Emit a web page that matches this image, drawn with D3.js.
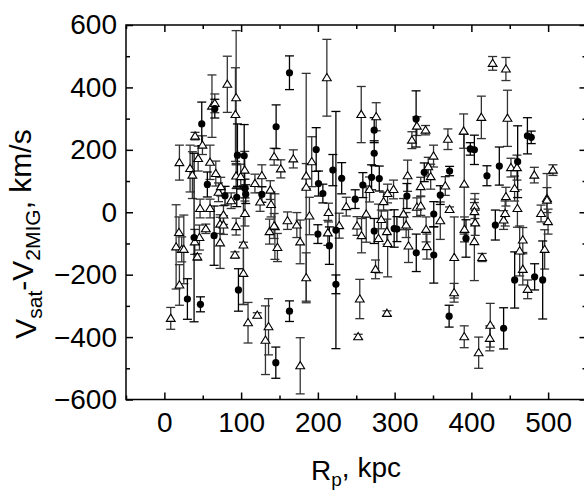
<!DOCTYPE html>
<html lang="en">
<head>
<meta charset="UTF-8">
<title>Vsat - V2MIG vs Rp</title>
<style>
    body { margin: 0; background: #fff; }
    svg text { font-family: "Liberation Sans", Arial, sans-serif; fill: #000; }
</style>
</head>
<body>
<div id="chart"></div>
<script src="https://cdn.jsdelivr.net/npm/d3@7"></script>
<script>
// ---- data ----
// filled circles
var circX = [48.7, 56, 65.7, 79, 95.2, 104, 105, 106, 94.3, 127, 145.6,
    163, 197.8, 200.8, 206.5, 219.5, 231, 248.6, 258.6, 273.4, 273.4, 270, 280, 316, 328, 338.6,
    398.6, 403.9, 420.3, 436.4, 473, 478, 460.3, 371.6, 359.5,
    30, 38.7, 47, 64.8, 96.5, 145.2,
    163, 200, 215, 223.5, 223.5, 273.4, 299.4, 303, 328.2,
    351, 351, 371, 393, 431.2, 442, 456.4, 482.4, 492.9];
var circY = [283, 89, 332, 53, 183, 181, 76, 58, 48, 57, 274,
    447, 201, 92, 60, 135, 109, 42, 87, 263, 189, 112, 108, 52, 299, 128,
    203, 200, 117, 148, 245, 240, 162, 132, 55,
    -278, -81, -295, -75, -249, -482,
    -317, -70, -107, -57, -231, -60, -52, -54, -130,
    -6, -137, -333, -84, -41, -372, -217, -207, -217];
var circErr = [70, 40, 30, 30, 100, 100, 30, 30, 30, 25, 70,
    54, 70, 40, 30, 50, 50, 30, 40, 40, 40, 40, 40, 40, 90, 30,
    20, 47, 32, 61, 58, 20, 115, 15, 30,
    65, 270, 24, 95, 68, 50,
    33, 30, 60, 380, 30, 40, 60, 40, 60,
    40, 90, 35, 60, 48, 66, 90, 42, 125];

// open triangles
var triX = [19.6, 33.5, 36.5, 40, 44, 49.6, 59.5, 62, 65.7, 67, 70.5, 73.5, 82, 87, 93.5, 92.6,
    93.5, 99.5, 104.7, 118, 127, 138, 139, 143, 46.5, 59.5,
    211.7, 151.7, 168, 184.8, 184.8, 192, 237, 256.5, 267.3, 276, 285.6, 290.8, 298.6, 316.9,
    329, 322.5, 340.3, 343.8, 334,
    427.7, 445, 413, 447, 369.4, 389.9, 451.6, 459.4, 482, 506.3, 498.5, 456.3, 445,
    350.7, 347, 366, 390.7, 404.6,
    8.3, 15.3, 19, 19.6, 22.6, 25.3, 39.6, 43, 45.7, 54, 72.6, 72.6, 77, 77, 93.5, 92,
    103, 103, 105, 109, 121, 131.7, 135.7, 137, 144, 147.3, 124.7,
    143, 160.4, 172.6, 176.9, 177, 184.8, 189, 213.9, 213, 227.8, 251, 256.9, 254.6, 252.5,
    263, 279, 275.1, 290, 289.9, 290.9, 282.6, 311.6, 315, 318.1, 329, 334, 341, 342,
    359.5, 371.6, 377.7, 377.5, 391, 404, 405, 403.9, 414, 390.7, 409.5, 424, 424.6,
    442, 444, 460, 462.9, 467, 467, 473.3, 495.5, 490.8, 499.9, 498.5];
var triY = [159, 140, 119, 244, 172, 215, 160, 340, 349, 124, 64, 82, 410, 37, 367, 313,
    116, 114, 135, 92, 117, 71, 25, 178, 12, 12,
    431, 139, 171, 116, 80, 162, 18, 313, 73, 306, 34, 60, 73, 117,
    276, 231, 263, 146, 82,
    477, 459, 304, 301, 234, 260, 143, 143, 119, 135, 44, 76, 50,
    180, 114, 84, 90, 20,
    -340, -111, -65, -233, -119, -119, -95, -143, -81, -53, -38, -98, -9, -41, -46, -137,
    -105, -196, -4, -354, -330, -410, -367, -62, -46, -113, 33,
    -44, -27, -41, -95, -492, -210, -12, -1, -66, -43, -44, -75, -278, -399,
    -6, -84, -183, -324, -62, -100, -23, -6, -41, -108, 16, 20, -55, -110,
    -27, 9, -145, -258, -55, 2, -34, -94, -145, -399, -450, -404, -362,
    -25, -4, 12, -124, -89, -183, -247, -119, -4, -30, 39];
var triErr = [56, 75, 75, 12, 40, 30, 55, 100, 30, 40, 30, 30, 90, 25, 215, 150,
    40, 40, 60, 30, 35, 30, 40, 27, 30, 30,
    123, 29, 29, 40, 365, 80, 30, 90, 40, 45, 30, 30, 30, 50,
    30, 27, 15, 30, 30,
    22, 37, 68, 90, 33, 55, 30, 40, 25, 17, 80, 40, 30,
    35, 40, 30, 160, 40,
    35, 135, 50, 65, 40, 110, 40, 10, 40, 15, 30, 82, 30, 30, 27, 10,
    190, 100, 40, 65, 8, 110, 90, 40, 105, 45, 30,
    40, 28, 40, 70, 90, 80, 60, 30, 40, 40, 30, 55, 63, 8,
    90, 110, 30, 8, 40, 107, 30, 50, 40, 53, 30, 30, 40, 40,
    60, 8, 130, 30, 40, 40, 40, 125, 13, 35, 50, 40, 70,
    30, 40, 60, 80, 40, 50, 30, 63, 27, 40, 40];

var xTicks = [0, 100, 200, 300, 400, 500];
var xMinor = [-50, 50, 150, 250, 350, 450, 550];
var yTicks = [-600, -400, -200, 0, 200, 400, 600];
var yMinor = [-500, -300, -100, 100, 300, 500];

// ---- layout ----
var W = 584, H = 493;
var plotL = 126, plotR = 586.5, plotT = 25, plotB = 399.5;

var svg = d3.select("#chart").append("svg")
    .attr("width", W)
    .attr("height", H);

var x = d3.scaleLinear().domain([-50, 550]).range([plotL, plotR]);
var y = d3.scaleLinear().domain([-600, 600]).range([plotB, plotT]);

var circles = circX.map(function (d, i) { return {x: d, y: circY[i], e: circErr[i]}; });
var triangles = triX.map(function (d, i) { return {x: d, y: triY[i], e: triErr[i]}; });

// axes, ticks pointing inwards
function styleAxis(g) {
    g.select(".domain").remove();
    g.selectAll("line").attr("stroke", "#000").attr("stroke-width", 1.5);
    g.selectAll("text").style("font-size", "28px");
}

svg.append("g").attr("transform", "translate(0," + plotB + ")")
    .call(d3.axisBottom(x).tickValues(xTicks).tickSize(-7).tickSizeOuter(0).tickPadding(13))
    .call(styleAxis);
svg.append("g").attr("transform", "translate(0," + plotB + ")")
    .call(d3.axisBottom(x).tickValues(xMinor).tickSize(-4).tickSizeOuter(0).tickFormat(""))
    .call(styleAxis);
svg.append("g").attr("transform", "translate(0," + plotT + ")")
    .call(d3.axisTop(x).tickValues(xTicks).tickSize(-7).tickSizeOuter(0).tickFormat(""))
    .call(styleAxis);
svg.append("g").attr("transform", "translate(0," + plotT + ")")
    .call(d3.axisTop(x).tickValues(xMinor).tickSize(-4).tickSizeOuter(0).tickFormat(""))
    .call(styleAxis);

svg.append("g").attr("transform", "translate(" + plotL + ",0)")
    .call(d3.axisLeft(y).tickValues(yTicks).tickSize(-7).tickSizeOuter(0).tickPadding(9))
    .call(styleAxis);
svg.append("g").attr("transform", "translate(" + plotL + ",0)")
    .call(d3.axisLeft(y).tickValues(yMinor).tickSize(-4).tickSizeOuter(0).tickFormat(""))
    .call(styleAxis);
svg.append("g").attr("transform", "translate(" + plotR + ",0)")
    .call(d3.axisRight(y).tickValues(yTicks).tickSize(-7).tickSizeOuter(0).tickFormat(""))
    .call(styleAxis);
svg.append("g").attr("transform", "translate(" + plotR + ",0)")
    .call(d3.axisRight(y).tickValues(yMinor).tickSize(-4).tickSizeOuter(0).tickFormat(""))
    .call(styleAxis);

// error bars
function errorBars(data, cls, colour) {
    var g = svg.append("g").attr("class", cls)
        .attr("stroke", colour).attr("stroke-width", 1.3).attr("fill", "none");
    var bars = g.selectAll("g").data(data).enter().append("g");
    bars.append("line")
        .attr("x1", function (d) { return x(d.x); })
        .attr("x2", function (d) { return x(d.x); })
        .attr("y1", function (d) { return y(d.y - d.e); })
        .attr("y2", function (d) { return y(d.y + d.e); });
    bars.append("line")
        .attr("x1", function (d) { return x(d.x) - 4.5; })
        .attr("x2", function (d) { return x(d.x) + 4.5; })
        .attr("y1", function (d) { return y(d.y + d.e); })
        .attr("y2", function (d) { return y(d.y + d.e); });
    bars.append("line")
        .attr("x1", function (d) { return x(d.x) - 4.5; })
        .attr("x2", function (d) { return x(d.x) + 4.5; })
        .attr("y1", function (d) { return y(d.y - d.e); })
        .attr("y2", function (d) { return y(d.y - d.e); });
}
errorBars(triangles, "triErr", "#333");
errorBars(circles, "circErr", "#000");

// markers
svg.append("g").selectAll("path").data(triangles).enter().append("path")
    .attr("d", "M0,-4.2L4.4,3L-4.4,3Z")
    .attr("transform", function (d) { return "translate(" + x(d.x) + "," + y(d.y) + ")"; })
    .attr("fill", "#fff")
    .attr("stroke", "#000")
    .attr("stroke-width", 1.1);

svg.append("g").selectAll("circle").data(circles).enter().append("circle")
    .attr("cx", function (d) { return x(d.x); })
    .attr("cy", function (d) { return y(d.y); })
    .attr("r", 3.6)
    .attr("fill", "#000");

// frame
svg.append("rect")
    .attr("x", plotL).attr("y", plotT)
    .attr("width", plotR - plotL).attr("height", plotB - plotT)
    .attr("fill", "none").attr("stroke", "#000").attr("stroke-width", 1.5);

// axis titles
var yt = svg.append("text")
    .attr("transform", "translate(36,234) rotate(-90)")
    .attr("text-anchor", "middle")
    .style("font-size", "30px");
yt.append("tspan").text("V");
yt.append("tspan").attr("dy", "0.3em").style("font-size", "21px").text("sat");
yt.append("tspan").attr("dy", "-0.3em").text("-V");
yt.append("tspan").attr("dy", "0.3em").style("font-size", "21px").text("2MIG");
yt.append("tspan").attr("dy", "-0.3em").text(", km/s");

var xt = svg.append("text")
    .attr("x", 356).attr("y", 480)
    .attr("text-anchor", "middle")
    .style("font-size", "28px");
xt.append("tspan").text("R");
xt.append("tspan").attr("dy", "0.3em").style("font-size", "19px").text("p");
xt.append("tspan").attr("dy", "-0.3em").text(", kpc");
</script>
</body>
</html>
